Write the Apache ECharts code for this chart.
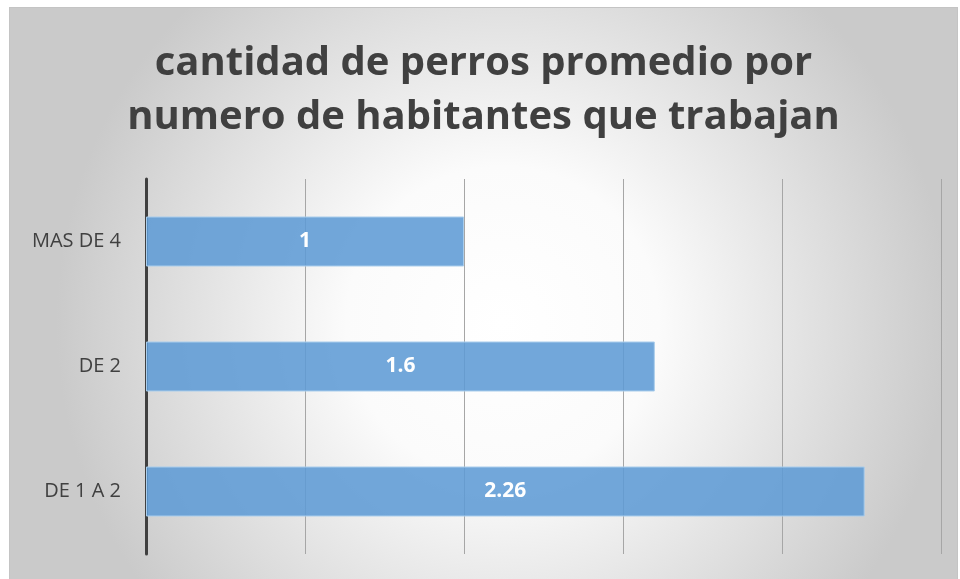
<!DOCTYPE html>
<html>
<head>
<meta charset="utf-8">
<script src="https://cdn.jsdelivr.net/npm/echarts@6/dist/echarts.min.js"></script>
<style>
html, body { margin: 0; padding: 0; background: #ffffff; }
#chart { position: absolute; left: 9px; top: 7px; width: 949px; height: 574px; border: 1px solid #c4c4c4; box-sizing: border-box; }
</style>
</head>
<body>
<div id="chart"></div>
<script>
// categorias, de arriba hacia abajo
var categorias = ['MAS DE 4', 'DE 2', 'DE 1 A 2'];
// perros promedio
var valores = [1, 1.6, 2.26];
var titulo = 'cantidad de perros promedio por\nnumero de habitantes que trabajan';

var myChart = echarts.init(document.getElementById('chart'));
var option = {
	backgroundColor : {
		type : 'radial',
		x : 0.52,
		y : 0.55,
		r : 0.78,
		colorStops : [
			{ offset : 0, color : '#ffffff' },
			{ offset : 0.35, color : '#fbfbfb' },
			{ offset : 1, color : '#cacaca' }
		]
	},
	title : {
		text : titulo,
		left : 'center',
		top : 24,
		textStyle : {
			fontFamily : 'Open Sans',
			fontWeight : 'bold',
			fontSize : 40,
			lineHeight : 54,
			color : '#404040'
		}
	},
	grid : {
		left : 136,
		right : 16,
		top : 171,
		bottom : 26
	},
	xAxis : {
		type : 'value',
		min : 0,
		max : 2.5,
		interval : 0.5,
		axisLabel : { show : false },
		axisLine : { show : false },
		axisTick : { show : false },
		splitLine : {
			show : true,
			lineStyle : { color : '#a6a6a6', width : 1 }
		}
	},
	yAxis : {
		type : 'category',
		inverse : true,
		data : categorias,
		axisLine : {
			show : true,
			lineStyle : { color : '#404040', width : 3 }
		},
		axisTick : { show : false },
		axisLabel : {
			margin : 25,
			fontFamily : 'Open Sans',
			fontSize : 20,
			color : '#404040'
		}
	},
	series : [ {
		type : 'bar',
		data : valores,
		barWidth : '40%',
		itemStyle : {
			color : 'rgba(94, 155, 213, 0.88)',
			borderColor : '#a9cdec',
			borderWidth : 1
		},
		label : {
			show : true,
			position : 'inside',
			fontFamily : 'Open Sans',
			fontWeight : 'bold',
			fontSize : 21,
			color : '#ffffff'
		}
	} ],
	animation : false
};
myChart.setOption(option);
</script>
</body>
</html>
